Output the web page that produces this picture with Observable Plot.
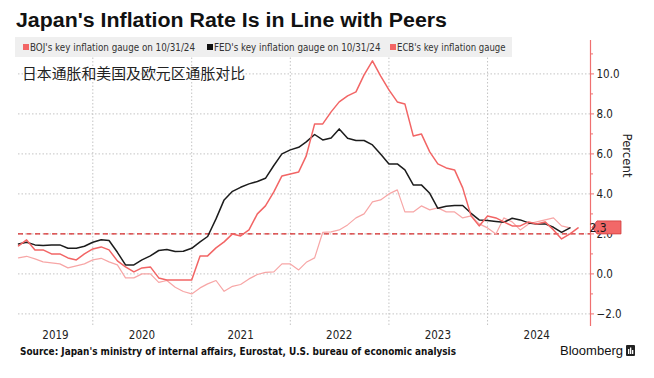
<!DOCTYPE html>
<html><head><meta charset="utf-8">
<script src="https://cdn.jsdelivr.net/npm/d3@7"></script>
<script src="https://cdn.jsdelivr.net/npm/@observablehq/plot@0.6"></script>
<style>
html,body{margin:0;padding:0;background:#fff;}
#wrap{position:relative;width:654px;height:378px;overflow:hidden;font-family:"DejaVu Sans Condensed","DejaVu Sans",sans-serif;font-stretch:condensed;color:#222;}
#wrap svg{position:absolute;left:0;top:0;}
.abs{position:absolute;white-space:nowrap;line-height:1;transform-origin:0 50%;}
.sq{position:absolute;width:6px;height:6px;}
</style></head><body><div id="wrap"></div>
<script>
// ---- data (monthly, first value = March 2019) ----
const firstMonth = "2019-03";
const ecbValues = [
  1.4, 1.7, 1.2, 1.2, 1.0, 1.0, 0.8, 0.7, 1.0, 1.25,
  1.35, 1.2, 0.65, 0.35, 0.1, 0.3, 0.35, -0.2, -0.3, -0.3, -0.3, -0.3,
  0.9, 0.9, 1.3, 1.6, 2.0, 1.9, 2.2, 3.0, 3.4, 4.1, 4.9, 5.0,
  5.1, 5.9, 7.5, 7.5, 8.1, 8.6, 8.9, 9.1, 9.95, 10.65, 9.9, 9.2,
  8.6, 8.5, 6.9, 7.0, 6.1, 5.5, 5.3, 5.2, 4.3, 2.9, 2.4, 2.9,
  2.8, 2.6, 2.4, 2.4, 2.6, 2.5, 2.6, 2.2, 1.75, 2.0, 2.3
];
const fedValues = [
  1.5, 1.58, 1.45, 1.42, 1.45, 1.45, 1.28, 1.28, 1.38, 1.58,
  1.71, 1.67, 1.08, 0.45, 0.45, 0.7, 0.9, 1.17, 1.22, 1.12, 1.13, 1.28,
  1.6, 1.87, 2.75, 3.7, 4.13, 4.33, 4.5, 4.62, 4.78, 5.42, 6.0, 6.2,
  6.33, 6.6, 6.97, 6.7, 6.8, 7.25, 6.78, 6.67, 6.67, 6.45, 6.0, 5.5,
  5.5, 5.2, 4.45, 4.45, 4.03, 3.28, 3.38, 3.42, 3.42, 3.03, 2.7, 2.67,
  2.62, 2.58, 2.78, 2.7, 2.55, 2.5, 2.5, 2.33, 2.08, 2.3
];
const bojValues = [
  0.8, 0.88, 0.75, 0.6, 0.55, 0.5, 0.3, 0.4, 0.5, 0.7,
  0.78, 0.6, 0.45, -0.2, -0.2, 0.0, 0.0, -0.42, -0.33, -0.67, -0.88, -1.0,
  -0.7, -0.5, -0.33, -0.87, -0.62, -0.53, -0.25, -0.03, 0.08, 0.1, 0.5, 0.5,
  0.2, 0.58, 0.8, 2.08, 2.1, 2.2, 2.45, 2.8, 3.0, 3.6, 3.7, 4.0,
  4.2, 3.1, 3.1, 3.4, 3.2, 3.3, 3.1, 3.1, 2.8, 2.9, 2.5, 2.3,
  2.0, 2.8, 2.6, 2.2, 2.5, 2.6, 2.7, 2.8, 2.4, 2.3
];
const targetRate = 2.0;
const yTicks = [-2, 0, 2, 4, 6, 8, 10];
const yMinorTicks = [-1, 1, 3, 5, 7, 9, 11];
const yearLabels = ["2019", "2020", "2021", "2022", "2023", "2024"];
const yearLabelDates = ["2019-08-16", "2020-07-01", "2021-07-01", "2022-07-01", "2023-07-01", "2024-07-01"];
const yearGridDates = ["2020-01-01", "2021-01-01", "2022-01-01", "2023-01-01", "2024-01-01"];
const legendLabels = ["BOJ's key inflation gauge on 10/31/24", "FED's key inflation gauge on 10/31/24", "ECB's key inflation gauge"];
const titleText = "Japan's Inflation Rate Is in Line with Peers";
const subtitleText = "日本通胀和美国及欧元区通胀对比";
const sourceText = "Source: Japan's ministry of internal affairs, Eurostat, U.S. bureau of economic analysis";
const xDomain = ["2019-04-01", "2025-01-16"];
const yDomain = [-2.63, 11.67];

// ---- styling ----
const FED_COLOR = "#1c1c1c", ECB_COLOR = "#f26565", BOJ_COLOR = "#f7a6a6";
const AXIS_RED = "#f07070", TARGET_RED = "#d62828";
const FONT = '"DejaVu Sans Condensed","DejaVu Sans",sans-serif';

// month-end plotting: data for month m drawn at the first day of month m+1
const start = d3.utcParse("%Y-%m")(firstMonth);
const toRows = vals => vals.map((v, i) => ({date: d3.utcMonth.offset(start, i + 1), value: v}));
const ecb = toRows(ecbValues), fed = toRows(fedValues), boj = toRows(bojValues);
const pd = d3.utcParse("%Y-%m-%d");

const chart = Plot.plot({
  width: 654, height: 378,
  marginLeft: 18, marginRight: 64, marginTop: 40, marginBottom: 52,
  style: {fontFamily: FONT, fontSize: "11px", color: "#222", background: "transparent", overflow: "visible"},
  x: {type: "utc", domain: xDomain.map(pd), axis: null},
  y: {domain: yDomain, axis: null},
  marks: [
    Plot.gridY({ticks: yTicks, stroke: "#c4c4c4", strokeOpacity: 1, strokeDasharray: "1.5,2"}),
    Plot.gridX({ticks: yearGridDates.map(pd), stroke: "#c4c4c4", strokeOpacity: 1, strokeDasharray: "1.5,2"}),
    Plot.ruleY([targetRate], {stroke: TARGET_RED, strokeWidth: 1.4, strokeDasharray: "5,3.5"}),
    Plot.line(boj, {x: "date", y: "value", stroke: BOJ_COLOR, strokeWidth: 1.2}),
    Plot.line(fed, {x: "date", y: "value", stroke: FED_COLOR, strokeWidth: 1.5}),
    Plot.line(ecb, {x: "date", y: "value", stroke: ECB_COLOR, strokeWidth: 1.5}),
    Plot.ruleX([pd(xDomain[1])], {stroke: AXIS_RED, strokeWidth: 1.2}),
    Plot.axisY({anchor: "right", ticks: yTicks, tickFormat: d3.format(".1f"), tickSize: 3, tickPadding: 3,
                stroke: AXIS_RED, fill: "#222", fontSize: 11.5, label: null}),
    Plot.axisY({anchor: "right", ticks: yMinorTicks, tickFormat: () => "", tickSize: 2, stroke: AXIS_RED, label: null}),
    Plot.text(yearLabels, {x: (d, i) => pd(yearLabelDates[i]), frameAnchor: "bottom", dy: 12, text: d => d, fontSize: 11.5, fill: "#222"}),
    Plot.text(["Percent"], {frameAnchor: "right", dx: 37, dy: -6, rotate: 90, text: d => d, fontSize: 13, fill: "#222"})
  ]
});

// last-value pill on the right axis
const svgns = "http://www.w3.org/2000/svg";
const lastEcb = ecbValues[ecbValues.length - 1];
const py = chart.scale("y").apply(lastEcb);
const ax = chart.scale("x").apply(pd(xDomain[1]));
const pill = document.createElementNS(svgns, "path");
pill.setAttribute("d", `M${ax + 2},${py} L${ax + 7},${py - 6.5} L${ax + 31},${py - 6.5} L${ax + 31},${py + 6.5} L${ax + 7},${py + 6.5} Z`);
pill.setAttribute("fill", "#f26868");
pill.setAttribute("stroke", "#d23c3c");
pill.setAttribute("stroke-width", "0.8");
chart.appendChild(pill);
const pt = document.createElementNS(svgns, "text");
pt.setAttribute("x", ax + 8); pt.setAttribute("y", py); pt.setAttribute("dy", "0.36em");
pt.setAttribute("font-size", "12"); pt.setAttribute("fill", "#1a1a1a");
pt.setAttribute("font-family", FONT);
pt.textContent = d3.format(".1f")(lastEcb);
chart.appendChild(pt);

const wrap = document.getElementById("wrap");
wrap.appendChild(chart);

function addText(txt, left, cy, size, opts = {}) {
  const el = document.createElement("div");
  el.className = "abs";
  el.textContent = txt;
  el.style.left = left + "px";
  el.style.fontSize = size + "px";
  el.style.top = (cy - size / 2) + "px";
  if (opts.weight) el.style.fontWeight = opts.weight;
  if (opts.family) el.style.fontFamily = opts.family;
  if (opts.color) el.style.color = opts.color;
  wrap.appendChild(el);
  if (opts.width) {
    const w = el.getBoundingClientRect().width;
    el.style.transform = `scaleX(${opts.width / w})`;
  }
  return el;
}

// legend box
const box = document.createElement("div");
Object.assign(box.style, {position: "absolute", left: "15px", top: "37px", width: "497px", height: "20px", background: "#efefef"});
wrap.appendChild(box);
const legendColors = [ECB_COLOR, "#111", ECB_COLOR];
const legendSq = [22.5, 206.5, 390];
const legendTx = [[30, 165], [213.5, 166.5], [397, 108.5]];
legendLabels.forEach((lab, i) => {
  const s = document.createElement("div");
  s.className = "sq";
  s.style.left = legendSq[i] + "px"; s.style.top = "43.5px"; s.style.background = legendColors[i];
  wrap.appendChild(s);
  addText(lab, legendTx[i][0], 46.8, 10.5, {width: legendTx[i][1], color: "#333"});
});

addText(titleText, 16, 20, 20, {weight: "bold", family: '"Liberation Sans",Arial,sans-serif', width: 431, color: "#111"});
addText(subtitleText, 21.5, 73, 14.5, {family: '"Noto Sans CJK SC",sans-serif', width: 223, color: "#222"});
addText(sourceText, 20, 352, 10, {weight: "bold", width: 436, color: "#111"});
addText("Bloomberg", 560, 350.5, 13, {family: '"Liberation Sans",Arial,sans-serif', width: 63, color: "#111"});

// logo mark
const logo = document.createElement("div");
logo.innerHTML = '<svg width="9" height="11" viewBox="0 0 9 11"><rect width="9" height="11" rx="1" fill="#222"/><rect x="2" y="4" width="1.3" height="5" fill="#fff"/><rect x="4" y="2.5" width="1.3" height="6.5" fill="#fff"/><rect x="6" y="5" width="1.3" height="4" fill="#fff"/></svg>';
Object.assign(logo.style, {position: "absolute", left: "626px", top: "345px", width: "9px", height: "11px", lineHeight: "0"});
logo.firstChild.style.position = "static";
wrap.appendChild(logo);
</script></body></html>
